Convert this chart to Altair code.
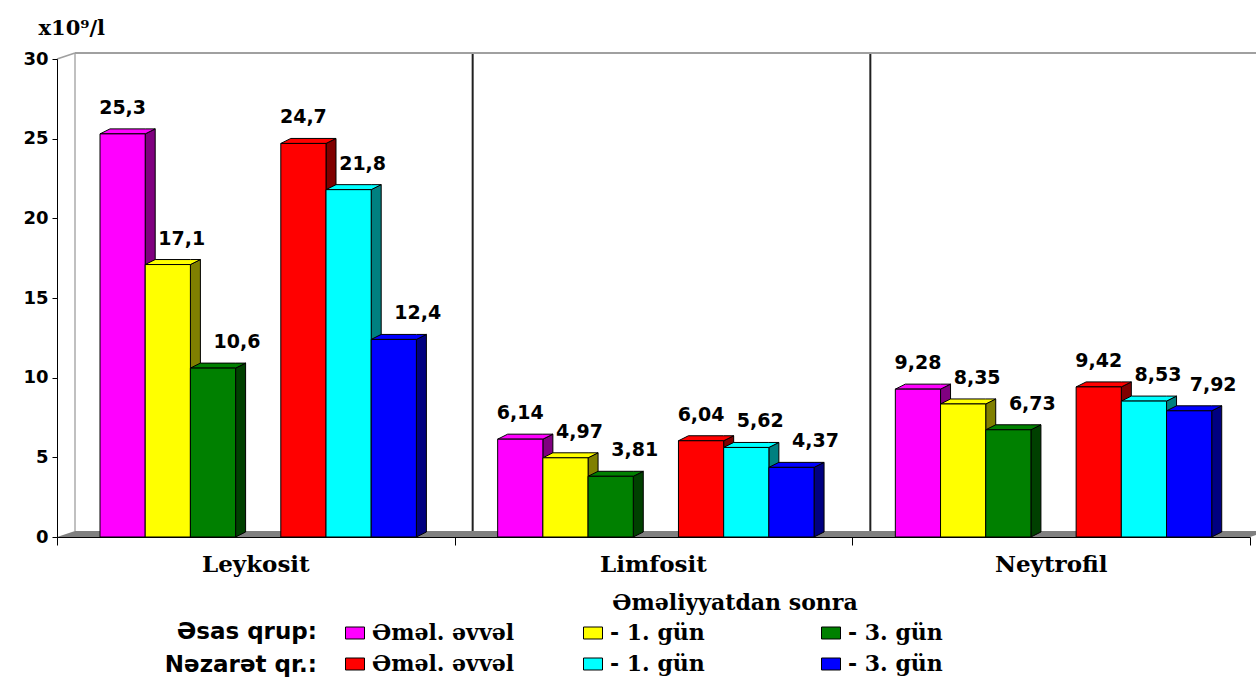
import altair as alt
import pandas as pd

# ---------------- data ----------------
categories = ["Leykosit", "Limfosit", "Neytrofil"]
group_names = ["Əsas qrup:", "Nəzarət qr.:"]
stage_names = ["Əməl. əvvəl", "- 1. gün", "- 3. gün"]
legend_heading = "Əməliyyatdan sonra"
unit_title = "x10⁹/l"

esas_evvel = [25.3, 6.14, 9.28]
esas_gun1 = [17.1, 4.97, 8.35]
esas_gun3 = [10.6, 3.81, 6.73]
nezaret_evvel = [24.7, 6.04, 9.42]
nezaret_gun1 = [21.8, 5.62, 8.53]
nezaret_gun3 = [12.4, 4.37, 7.92]

y_ticks = [0, 5, 10, 15, 20, 25, 30]
y_max = 30

series_values = [esas_evvel, esas_gun1, esas_gun3,
                 nezaret_evvel, nezaret_gun1, nezaret_gun3]
series_keys = [f"{g} {s}" for g in group_names for s in stage_names]

# ---------------- style ----------------
FRONT = ["#FF00FF", "#FFFF00", "#008000", "#FF0000", "#00FFFF", "#0000FF"]
SIDE = ["#800080", "#808000", "#004000", "#800000", "#008080", "#000080"]

PLOT_W, PLOT_H = 1193, 478
PADDING = {"left": 57, "top": 59, "right": 6, "bottom": 140}
N_CAT = len(categories)
UX = N_CAT / PLOT_W          # data units per pixel (x)
UY = y_max / PLOT_H          # data units per pixel (y)

BAR_PAD_PX, BAR_W_PX = 43, 45.2
BAR_DX, BAR_DY = 10 * UX, 5 * UY       # bar depth (3-D look)
WALL_DX, WALL_DY = 18 * UX, 6 * UY     # back wall depth
LABEL_SHIFT_PX = [0, 14, 24]

SANS = "DejaVu Sans"
SERIF = "DejaVu Serif"

# ---------------- geometry tables ----------------
front_rows, side_rows, top_rows = [], [], []
for ci, cat in enumerate(categories):
    for si, key in enumerate(series_keys):
        v = series_values[si][ci]
        slot = si + si // 3            # empty slot between the two groups
        x0 = ci + (BAR_PAD_PX + slot * BAR_W_PX) * UX
        x1 = x0 + BAR_W_PX * UX
        bid = f"{cat}|{key}"
        front_rows.append(dict(cat=cat, series=key, x0=x0, x1=x1, v=v, base=0.0,
                               label=str(v).replace(".", ","),
                               lx=(x0 + x1) / 2 + LABEL_SHIFT_PX[si % 3] * UX))
        side_rows += [
            dict(id=bid, fill=SIDE[si], x=x1, y=v, y2=0.0),
            dict(id=bid, fill=SIDE[si], x=x1 + BAR_DX, y=v + BAR_DY, y2=BAR_DY),
        ]
        top_rows += [
            dict(id=bid, fill=FRONT[si], x=x0, y=v, y2=v),
            dict(id=bid, fill=FRONT[si], x=x0 + BAR_DX, y=v + BAR_DY, y2=v),
            dict(id=bid, fill=FRONT[si], x=x1, y=v + BAR_DY, y2=v),
            dict(id=bid, fill=FRONT[si], x=x1 + BAR_DX, y=v + BAR_DY, y2=v + BAR_DY),
        ]

front_df = pd.DataFrame(front_rows)
side_df = pd.DataFrame(side_rows)
top_df = pd.DataFrame(top_rows)

floor_df = pd.DataFrame({
    "x": [0, WALL_DX, N_CAT, N_CAT + WALL_DX],
    "y": [0, WALL_DY, WALL_DY, WALL_DY],
    "y2": [0, 0, 0, WALL_DY],
})
bounds = list(range(N_CAT + 1))
left_edge_df = pd.DataFrame({"x": [bounds[0] + WALL_DX], "y": [WALL_DY], "y2": [y_max + WALL_DY]})
divider_df = pd.DataFrame({"x": [b + WALL_DX for b in bounds[1:-1]],
                           "y": [WALL_DY] * (N_CAT - 1),
                           "y2": [y_max + WALL_DY] * (N_CAT - 1)})
top_edge_df = pd.DataFrame({"x": [WALL_DX], "x2": [N_CAT + WALL_DX], "y": [y_max + WALL_DY]})
corner_df = pd.DataFrame({"x": [0], "x2": [WALL_DX], "y": [y_max], "y2": [y_max + WALL_DY]})
cat_df = pd.DataFrame({"cat": categories, "x": [i + 0.5 for i in range(N_CAT)], "y": [0] * N_CAT})

xs = alt.Scale(domain=[0, N_CAT], nice=False, zero=False)
ys = alt.Scale(domain=[0, y_max], nice=False)

# one axis definition per channel, shared by every layer
X_AXIS = alt.Axis(values=bounds, labels=False, tickSize=8, tickColor="black",
                  domainColor="black", grid=False, title=None, zindex=1)
Y_AXIS = alt.Axis(values=y_ticks, tickSize=5, tickColor="black", domainColor="black",
                  labelFont=SANS, labelFontSize=18, labelFontWeight="bold",
                  labelColor="black", labelPadding=4, grid=False, zindex=1,
                  title=unit_title, titleAngle=0, titleAlign="left",
                  titleBaseline="middle", titleX=-19, titleY=-31, titleFont=SERIF,
                  titleFontSize=21, titleFontWeight="bold", titleColor="black")


def X(field):
    return alt.X(field, scale=xs, axis=X_AXIS)


def Y(field, **kw):
    return alt.Y(field, scale=ys, axis=Y_AXIS, **kw)


# ---------------- layers ----------------
floor = alt.Chart(floor_df).mark_area(color="#808080").encode(
    x=X("x:Q"), y=Y("y:Q", stack=None), y2="y2:Q",
)

left_edge = alt.Chart(left_edge_df).mark_rule(color="#C0C0C0", strokeWidth=2).encode(
    x=X("x:Q"), y=Y("y:Q"), y2="y2:Q",
)
dividers = alt.Chart(divider_df).mark_rule(color="#202020", strokeWidth=2).encode(
    x=X("x:Q"), y=Y("y:Q"), y2="y2:Q",
)
top_edge = alt.Chart(top_edge_df).mark_rule(color="#A0A0A0", strokeWidth=2).encode(
    x=X("x:Q"), x2="x2:Q", y=Y("y:Q"),
)
corner = alt.Chart(corner_df).mark_rule(color="#A0A0A0", strokeWidth=1.5).encode(
    x=X("x:Q"), x2="x2:Q", y=Y("y:Q"), y2="y2:Q",
)

sides = alt.Chart(side_df).mark_area(stroke="black", strokeWidth=1, opacity=1).encode(
    x=X("x:Q"), y=Y("y:Q", stack=None), y2="y2:Q",
    detail="id:N", fill=alt.Fill("fill:N", scale=None),
)
tops = alt.Chart(top_df).mark_area(stroke="black", strokeWidth=1, opacity=1).encode(
    x=X("x:Q"), y=Y("y:Q", stack=None), y2="y2:Q",
    detail="id:N", fill=alt.Fill("fill:N", scale=None),
)

fronts = alt.Chart(front_df).mark_rect(stroke="black", strokeWidth=1, opacity=1).encode(
    x=X("x0:Q"), x2="x1:Q",
    y=Y("v:Q"), y2="base:Q",
    color=alt.Color("series:N", scale=alt.Scale(domain=series_keys, range=FRONT),
                    legend=alt.Legend(
                        orient="none", legendX=287, legendY=563, columns=3,
                        direction="horizontal", title=None, gridAlign="all",
                        columnPadding=66, rowPadding=9, padding=0,
                        symbolType="M-1,-0.63L1,-0.63L1,0.63L-1,0.63Z",
                        symbolSize=361, symbolStrokeColor="black",
                        symbolStrokeWidth=1, symbolOpacity=1,
                        labelFont=SERIF, labelFontSize=22, labelFontWeight="bold",
                        labelColor="black", labelOffset=6, labelLimit=400,
                        labelExpr="split(datum.label, ': ')[1]")),
)

values_text = alt.Chart(front_df).mark_text(
    font=SANS, fontSize=19, fontWeight="bold", color="black",
    baseline="middle", align="center", dy=-26,
).encode(x=X("lx:Q"), y=Y("v:Q"), text="label:N")

cat_text = alt.Chart(cat_df).mark_text(
    font=SERIF, fontSize=23, fontWeight="bold", color="black",
    baseline="middle", align="center", dy=28,
).encode(x=X("x:Q"), y=Y("y:Q"), text="cat:N")

heading = alt.Chart(pd.DataFrame({"t": [legend_heading]})).mark_text(
    font=SERIF, fontSize=22, fontWeight="bold", color="black",
    baseline="middle", align="center",
).encode(x=alt.value(678), y=alt.value(544), text="t:N")

row_labels = [
    alt.Chart(pd.DataFrame({"t": [name]})).mark_text(
        font=SANS, fontSize=23, fontWeight="bold", color="black",
        baseline="middle", align="right",
    ).encode(x=alt.value(260), y=alt.value(ry), text="t:N")
    for name, ry in zip(group_names, [573, 606])
]

chart = alt.layer(
    floor, left_edge, dividers, top_edge, corner,
    sides, tops, fronts, values_text, cat_text, heading, *row_labels,
).properties(
    width=PLOT_W, height=PLOT_H,
    autosize=alt.AutoSizeParams(type="none"),
    padding=PADDING,
    background="white",
).configure_view(stroke=None)

chart.save("out.html", embed_options={"renderer": "svg", "actions": False})
